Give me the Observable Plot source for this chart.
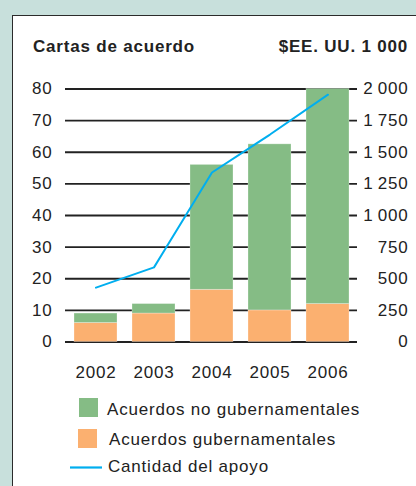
<!DOCTYPE html>
<html>
<head>
<meta charset="utf-8">
<script src="https://cdn.jsdelivr.net/npm/d3@7"></script>
<script src="https://cdn.jsdelivr.net/npm/@observablehq/plot@0.6"></script>
<style>
  html, body { margin: 0; padding: 0; width: 416px; height: 486px; overflow: hidden; background: #c8e0dc; }
  #panel { position: absolute; left: 12px; top: 15px; width: 600px; height: 600px; background: #fff; border: 1.5px solid #2b2b2b; box-sizing: border-box; }
  #chart { position: absolute; left: 0; top: 0; }
  #overlay { position: absolute; left: 0; top: 0; }
  text { font-family: "Liberation Sans", Arial, sans-serif; }
</style>
</head>
<body>
<div id="panel"></div>
<div id="chart"></div>
<svg id="overlay" width="416" height="486"></svg>
<script>
const years = ["2002", "2003", "2004", "2005", "2006"];
const gubernamentales = [6, 9, 16.5, 10, 12];
const noGubernamentales = [3, 3, 39.5, 52.5, 68];
const apoyo = [430, 590, 1340, 1640, 1955];
const leftTicks = [0, 10, 20, 30, 40, 50, 60, 70, 80];
const rightTickValues = [0, 250, 500, 750, 1000, 1250, 1500, 1750, 2000];
const seriesNames = ["Acuerdos no gubernamentales", "Acuerdos gubernamentales", "Cantidad del apoyo"];
const seriesColors = ["#85bc85", "#fbb070", "#00aeef"];
const titleLeft = "Cartas de acuerdo";
const titleRight = "$EE. UU. 1 000";

const ratio = 25; // right axis units per left axis unit
const fmt = d3.formatLocale({decimal: ",", thousands: "\u2009", grouping: [3], currency: ["", ""]}).format(",d");

const bars = [];
years.forEach((y, i) => {
  bars.push({year: y, type: seriesNames[1], value: gubernamentales[i]});
  bars.push({year: y, type: seriesNames[0], value: noGubernamentales[i]});
});
const line = years.map((y, i) => ({year: y, amount: apoyo[i]}));

const font = {fontFamily: "'Liberation Sans', Arial, sans-serif", fontSize: "17px", letterSpacing: "0.8px", color: "#222", background: "transparent"};

const chart = Plot.plot({
  width: 416,
  height: 390,
  marginLeft: 65,
  marginRight: 59,
  marginTop: 88.5,
  marginBottom: 48.5,
  style: font,
  x: {domain: years, paddingInner: 0.26, paddingOuter: 0.145, axis: null},
  y: {domain: [0, 80], axis: null},
  color: {domain: seriesNames.slice(0, 2), range: seriesColors.slice(0, 2)},
  marks: [
    Plot.ruleY(leftTicks, {stroke: "#222", strokeWidth: 1.8}),
    Plot.barY(bars, {x: "year", y: "value", fill: "type", stroke: "#fff", strokeOpacity: 0.35, strokeWidth: 0.8}),
    Plot.lineY(line, {x: "year", y: d => d.amount / ratio, stroke: seriesColors[2], strokeWidth: 2}),
    Plot.axisY(leftTicks, {anchor: "left", tickSize: 0, tickPadding: 13, label: null, fill: "#222"}),
    Plot.axisY(rightTickValues.map(v => v / ratio), {anchor: "right", tickSize: 0, tickPadding: 51, textAnchor: "end", label: null, fill: "#222", tickFormat: d => fmt(Math.round(d * ratio))}),
    Plot.axisX({anchor: "bottom", tickSize: 0, tickPadding: 24, label: null, fill: "#222"})
  ]
});
document.getElementById("chart").appendChild(chart);

// titles and legend
const ov = d3.select("#overlay");
const tstyle = s => s.attr("font-size", 17).attr("letter-spacing", "0.8px").attr("fill", "#222");
ov.append("text").attr("x", 33).attr("y", 51.5).attr("font-weight", "bold").text(titleLeft).call(tstyle);
ov.append("text").attr("x", 408).attr("y", 51.5).attr("text-anchor", "end").attr("font-weight", "bold").text(titleRight).call(tstyle);

const legendRows = [
  {kind: "rect", x: 79, y: 398, tx: 107, ty: 415},
  {kind: "rect", x: 78, y: 429, tx: 109, ty: 445},
  {kind: "line", x: 70, y: 467.5, tx: 108, ty: 471.5}
];
legendRows.forEach((r, i) => {
  if (r.kind === "rect") {
    ov.append("rect").attr("x", r.x).attr("y", r.y).attr("width", 19).attr("height", 19).attr("fill", seriesColors[i]);
  } else {
    ov.append("line").attr("x1", r.x).attr("x2", r.x + 32).attr("y1", r.y).attr("y2", r.y).attr("stroke", seriesColors[i]).attr("stroke-width", 2.2);
  }
  ov.append("text").attr("x", r.tx).attr("y", r.ty).text(seriesNames[i]).call(tstyle);
});
</script>
</body>
</html>
